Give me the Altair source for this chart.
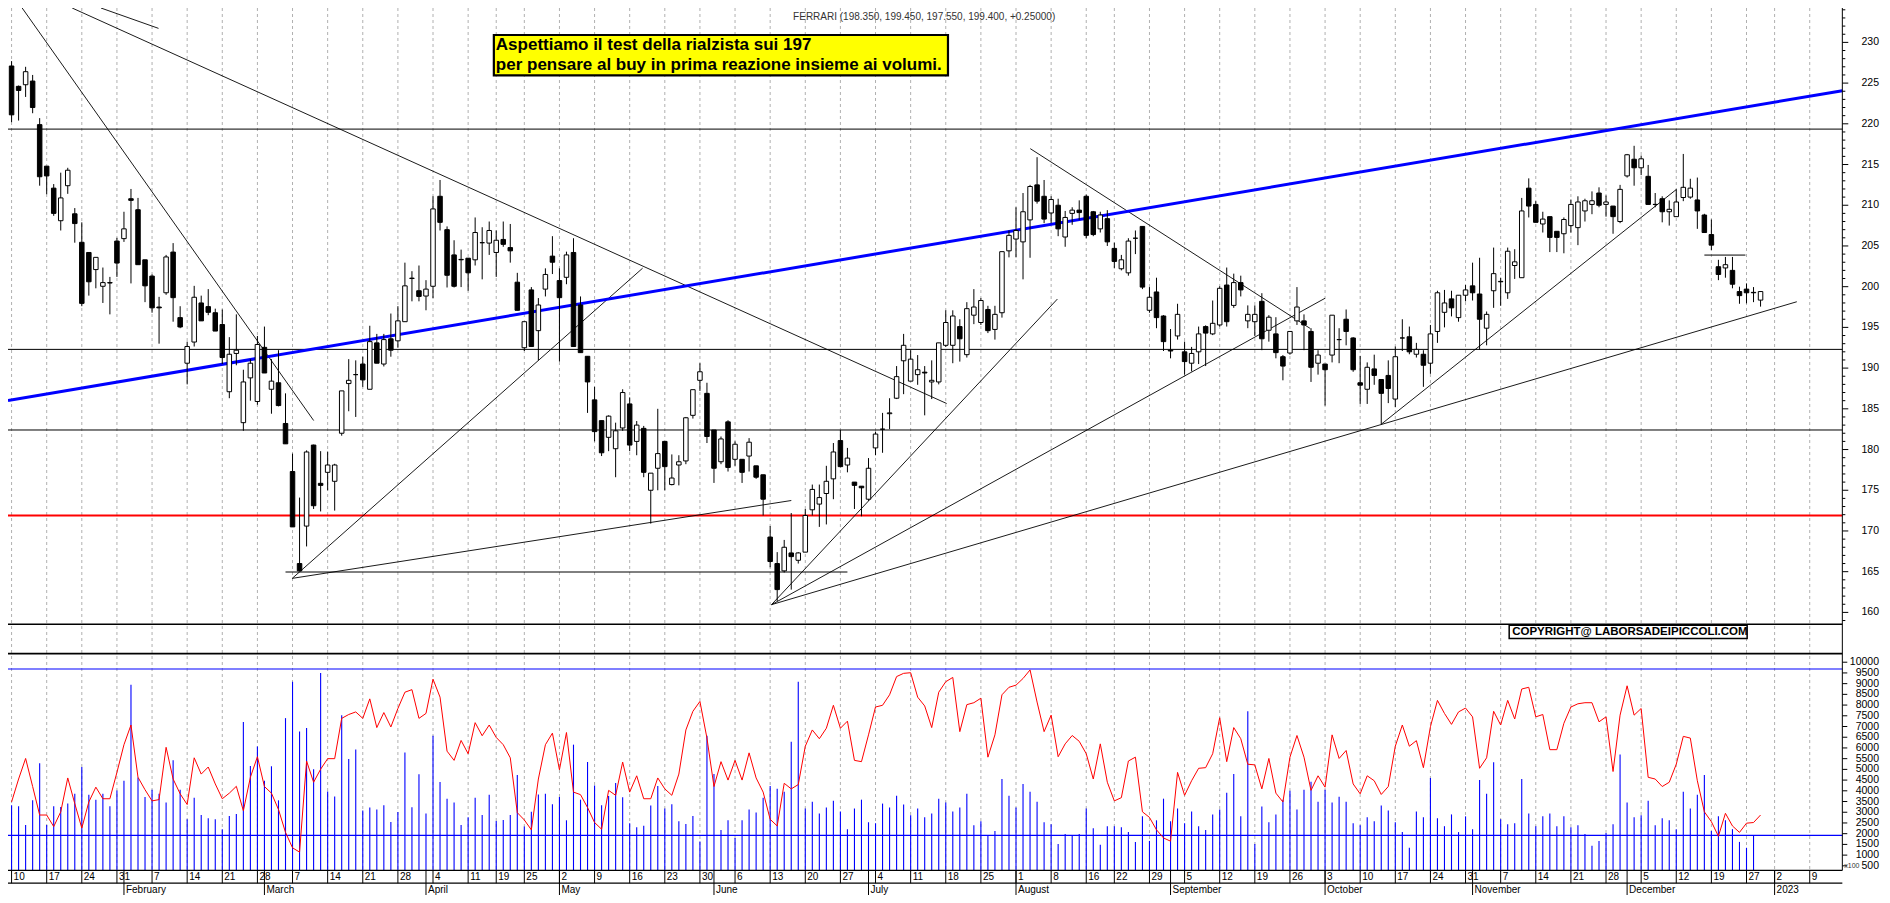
import altair as alt
import pandas as pd
import numpy as np

# ---------------------------------------------------------------- data
OPEN = [227.1, 224.6, 224.8, 225.25, 219.9, 214.8, 212.1, 208.1, 212.4, 208.95,
        205.45, 204.2, 202.1, 200.05, 200.5, 205.6, 205.9, 210.8, 209.45, 203.3,
        201.3, 197.5, 199.25, 204.25, 196.2, 190.6, 193.2, 198.0, 197.55, 196.8,
        195.35, 187.1, 191.8, 183.3, 188.8, 185.9, 192.55, 187.4, 188.2, 183.2,
        177.3, 166.0, 170.6, 180.55, 175.85, 177.2, 176.1, 182.0, 188.1, 189.2,
        190.5, 187.4, 193.1, 190.5, 193.6, 193.35, 195.7, 201.0, 199.5, 198.85,
        200.05, 211.1, 207.0, 203.9, 203.35, 203.5, 203.3, 205.4, 205.35, 204.2,
        205.8, 204.8, 200.55, 192.5, 199.6, 194.6, 199.7, 203.75, 200.75, 201.15,
        204.2, 197.75, 191.45, 186.1, 183.55, 181.5, 180.1, 182.65, 185.6, 181.0,
        182.6, 175.0, 177.7, 181.0, 175.7, 178.1, 178.6, 184.2, 188.5, 186.9,
        182.4, 178.5, 183.4, 178.8, 178.8, 179.2, 178.0, 176.9, 169.25, 166.0,
        165.1, 167.3, 166.4, 167.4, 172.6, 173.3, 174.6, 176.4, 181.1, 178.1,
        176.0, 175.5, 173.9, 180.2, 182.5, 184.4, 186.3, 190.9, 188.4, 189.2,
        189.5, 188.3, 188.3, 192.8, 192.8, 195.1, 191.65, 196.5, 195.6, 197.2,
        194.75, 196.8, 204.4, 205.85, 205.5, 208.2, 212.5, 211.1, 209.05, 210.0,
        206.1, 209.0, 209.4, 211.1, 209.2, 207.1, 208.35, 204.7, 202.2, 201.7,
        205.95, 207.4, 197.1, 199.35, 196.4, 192.2, 193.95, 192.0, 190.6, 192.0,
        195.1, 194.2, 195.3, 200.2, 197.7, 200.5, 195.8, 195.7, 198.2, 194.65,
        194.2, 191.4, 191.85, 195.8, 195.8, 194.5, 190.6, 190.5, 191.6, 193.5,
        196.0, 193.7, 188.2, 187.4, 189.9, 188.6, 189.1, 186.2, 193.7, 193.85,
        191.7, 191.7, 190.6, 194.5, 196.85, 198.5, 196.2, 198.95, 200.1, 199.1,
        194.9, 199.5, 200.6, 199.25, 202.6, 201.1, 212.1, 210.1, 207.7, 208.6,
        206.8, 206.5, 207.5, 207.25, 209.3, 210.1, 211.5, 210.1, 209.9, 208.0,
        213.6, 215.65, 214.6, 213.55, 210.1, 210.8, 209.2, 208.6, 210.95, 211.0,
        210.65, 208.8, 206.4, 202.45, 202.3, 202.0, 199.4, 199.7, 199.3, 198.35]

HIGH = [227.7, 224.7, 227.0, 226.0, 220.7, 214.8, 212.6, 214.0, 214.6, 209.65,
        207.9, 204.2, 203.6, 202.35, 201.2, 206.0, 209.2, 212.0, 210.9, 203.3,
        201.5, 198.75, 203.9, 205.35, 197.6, 193.25, 200.1, 198.9, 199.7, 197.3,
        197.2, 193.8, 196.6, 189.8, 191.1, 193.95, 195.1, 191.1, 192.2, 186.9,
        179.5, 174.1, 179.9, 180.6, 179.8, 179.75, 178.25, 187.2, 191.1, 190.95,
        191.4, 195.2, 194.2, 194.2, 196.7, 197.6, 202.95, 201.9, 202.6, 200.8,
        211.1, 213.1, 207.4, 205.7, 204.55, 203.5, 208.5, 207.3, 208.0, 206.9,
        208.0, 207.7, 201.7, 195.7, 199.95, 198.6, 202.25, 206.2, 202.25, 204.3,
        205.95, 198.8, 191.45, 187.7, 183.55, 184.2, 183.3, 187.4, 186.4, 183.5,
        182.9, 177.1, 185.0, 181.0, 179.4, 179.3, 184.0, 187.35, 190.6, 188.2,
        182.4, 181.6, 183.6, 181.0, 178.8, 181.4, 178.0, 176.9, 170.6, 167.4,
        168.9, 172.2, 167.4, 172.7, 175.7, 175.7, 178.0, 180.8, 182.4, 180.2,
        176.0, 175.5, 178.95, 182.2, 184.5, 186.3, 190.25, 194.2, 192.2, 191.6,
        190.25, 190.95, 193.1, 197.1, 197.1, 196.0, 198.1, 199.7, 198.6, 197.65,
        197.65, 204.3, 206.9, 209.75, 211.5, 212.5, 215.9, 213.1, 211.1, 210.8,
        209.3, 209.75, 210.6, 211.3, 209.3, 209.2, 209.4, 205.4, 203.9, 205.95,
        206.9, 207.4, 199.95, 201.1, 196.5, 194.8, 197.9, 193.25, 192.6, 195.1,
        195.25, 198.3, 200.05, 202.35, 201.6, 201.35, 197.7, 197.7, 199.2, 196.5,
        196.25, 191.6, 194.5, 199.95, 196.6, 194.9, 192.2, 190.5, 196.5, 194.9,
        197.2, 193.8, 191.5, 190.7, 191.65, 188.6, 190.95, 192.65, 196.0, 195.1,
        193.1, 192.2, 195.3, 199.5, 199.6, 199.5, 198.95, 200.2, 202.95, 203.55,
        196.95, 204.8, 201.1, 204.8, 204.6, 210.9, 213.3, 210.5, 209.2, 208.6,
        206.8, 208.5, 210.7, 211.1, 210.8, 211.7, 212.2, 211.2, 209.9, 212.5,
        216.3, 217.3, 216.1, 214.95, 211.5, 211.1, 210.6, 211.95, 216.3, 213.25,
        213.4, 208.95, 208.25, 203.3, 203.65, 203.65, 200.0, 200.4, 199.95, 199.45]

LOW = [220.2, 220.4, 223.3, 221.3, 212.4, 211.35, 208.7, 206.9, 211.4, 205.4,
       197.6, 198.9, 199.8, 198.0, 196.6, 201.2, 205.5, 200.4, 202.7, 198.1,
       196.8, 193.0, 199.0, 195.7, 194.9, 188.0, 192.65, 195.8, 196.5, 194.55,
       190.5, 186.3, 190.35, 182.3, 186.0, 185.5, 189.4, 184.4, 185.3, 180.7,
       170.5, 165.1, 168.1, 172.7, 172.4, 175.0, 172.5, 181.7, 184.7, 184.0,
       187.7, 187.4, 190.6, 190.2, 191.4, 192.5, 195.7, 198.2, 198.2, 197.1,
       198.6, 206.9, 199.9, 199.9, 199.95, 199.5, 202.6, 200.9, 203.9, 201.2,
       204.9, 202.95, 197.1, 192.1, 192.65, 190.95, 198.8, 201.55, 190.8, 200.3,
       192.65, 191.9, 184.5, 181.0, 179.2, 179.8, 176.6, 182.3, 179.8, 179.3,
       176.6, 170.9, 175.0, 175.0, 175.6, 175.6, 178.2, 183.8, 187.2, 180.8,
       175.9, 178.2, 177.3, 178.0, 175.9, 177.3, 176.4, 171.9, 165.55, 161.4,
       164.9, 162.8, 166.0, 167.4, 171.9, 170.5, 170.8, 173.9, 177.8, 177.2,
       172.7, 171.8, 173.7, 179.3, 179.6, 182.5, 186.2, 186.8, 188.4, 187.95,
       184.2, 186.2, 188.0, 192.6, 190.6, 190.8, 191.3, 195.4, 195.3, 194.3,
       193.5, 196.2, 203.6, 203.6, 200.9, 203.55, 210.2, 207.8, 207.8, 206.2,
       204.9, 207.6, 208.2, 205.95, 206.2, 206.65, 205.0, 202.3, 202.0, 201.35,
       204.0, 199.7, 196.8, 194.9, 192.1, 191.2, 193.5, 189.2, 189.6, 190.5,
       190.25, 194.05, 195.1, 195.1, 197.4, 198.8, 194.9, 193.95, 192.2, 193.25,
       191.2, 188.5, 191.65, 195.3, 192.2, 188.3, 189.2, 185.4, 190.7, 190.6,
       192.8, 189.55, 185.6, 185.6, 187.95, 183.1, 185.7, 185.2, 192.1, 191.7,
       191.3, 187.7, 189.3, 193.1, 195.0, 196.35, 195.7, 198.2, 198.3, 192.3,
       192.8, 197.4, 197.65, 198.5, 200.95, 201.1, 208.5, 207.9, 206.65, 204.25,
       204.25, 204.1, 206.65, 205.1, 208.0, 208.9, 209.75, 208.6, 206.5, 207.8,
       213.4, 212.4, 213.7, 210.1, 209.75, 207.9, 207.5, 208.6, 210.5, 210.8,
       207.1, 206.65, 204.5, 200.8, 201.1, 199.8, 197.9, 197.95, 198.1, 197.55]

CLOSE = [221.1, 224.1, 226.4, 222.0, 213.5, 213.6, 209.0, 210.9, 214.3, 207.75,
         197.95, 200.6, 203.6, 200.5, 200.45, 202.9, 207.1, 210.6, 202.7, 200.1,
         197.4, 197.4, 203.65, 198.65, 195.05, 192.65, 198.7, 195.8, 196.85, 194.55,
         191.3, 191.7, 192.2, 188.3, 190.6, 192.9, 189.4, 188.4, 185.4, 180.7,
         170.5, 165.1, 179.7, 173.1, 175.6, 178.1, 178.1, 187.2, 188.5, 189.2,
         188.55, 193.25, 190.6, 193.5, 192.2, 195.8, 200.1, 201.05, 198.8, 199.7,
         209.55, 207.9, 201.4, 200.05, 203.3, 201.7, 206.65, 205.4, 206.9, 205.7,
         205.2, 204.4, 197.1, 195.7, 192.65, 197.75, 201.5, 203.0, 198.65, 203.9,
         192.65, 191.9, 188.3, 182.2, 179.6, 184.1, 182.3, 187.0, 180.55, 183.0,
         177.2, 177.1, 179.5, 177.9, 176.5, 178.5, 183.9, 187.35, 189.55, 181.6,
         177.7, 181.3, 177.8, 180.65, 177.2, 180.9, 176.6, 173.9, 166.25, 162.8,
         168.0, 166.85, 167.3, 171.9, 175.1, 174.1, 176.1, 179.7, 177.9, 178.95,
         175.6, 175.3, 177.7, 181.9, 182.5, 184.5, 188.95, 192.8, 191.1, 189.8,
         189.4, 188.5, 193.1, 195.6, 196.4, 193.6, 197.3, 197.5, 198.3, 194.6,
         196.6, 204.3, 206.3, 206.9, 209.2, 212.3, 210.5, 208.3, 210.7, 207.1,
         208.5, 209.4, 209.1, 206.3, 206.4, 208.8, 205.5, 203.1, 203.3, 205.6,
         205.95, 199.95, 198.7, 196.2, 193.25, 192.1, 196.6, 190.8, 191.8, 194.2,
         194.3, 195.5, 199.8, 195.7, 200.5, 199.6, 196.6, 196.6, 193.6, 196.25,
         191.9, 190.25, 194.5, 197.5, 195.3, 190.1, 191.6, 189.8, 196.5, 193.5,
         194.5, 189.8, 187.9, 190.1, 189.1, 186.9, 187.5, 191.4, 193.7, 192.0,
         192.3, 190.35, 194.2, 199.25, 198.0, 197.4, 198.95, 199.6, 199.25, 196.0,
         196.6, 201.6, 200.65, 204.35, 203.05, 209.3, 209.9, 207.9, 208.3, 206.05,
         206.05, 208.25, 210.1, 210.4, 210.55, 210.55, 210.0, 210.4, 208.6, 211.95,
         216.2, 214.6, 215.7, 210.1, 210.1, 209.2, 209.5, 210.4, 212.2, 212.1,
         209.3, 206.65, 205.1, 201.5, 202.7, 200.3, 198.9, 199.25, 199.25, 199.4]

# volume (x100), sessions 0..248
VOLUME = [3327, 3281, 2410, 3556, 5283, 2410, 3281, 3250, 3403, 3862,
          5115, 3816, 3587, 3862, 3281, 4014, 4473, 8950, 4626, 3709,
          4045, 3862, 3449, 5420, 4045, 2670, 3678, 2868, 2716, 2670,
          2211, 2823, 2914, 7208, 5160, 6062, 4473, 5145, 3556, 7391,
          9087, 6765, 6933, 5008, 9500, 3969, 3739, 7529, 5481, 5924,
          3082, 3220, 3128, 3327, 2548, 3006, 5787, 3235, 4778, 2945,
          6566, 4412, 3632, 3449, 2410, 2761, 3678, 2868, 3816, 2593,
          2639, 2868, 4733, 2334, 3021, 3831, 3862, 3373, 3709, 2624,
          6154, 3587, 5344, 4244, 3327, 3755, 4366, 3694, 2486, 2303,
          2364, 3312, 4228, 3174, 3373, 2578, 2456, 2823, 1631, 6566,
          4779, 2166, 2624, 1799, 2624, 3128, 2991, 3679, 4229, 4091,
          3954, 6292, 9088, 3174, 3495, 2945, 3220, 3541, 3037, 2212,
          3174, 3587, 2533, 2487, 3404, 3220, 3770, 3358, 2854, 3174,
          2762, 2945, 3633, 3450, 3037, 3220, 3862, 2395, 2579, 1891,
          2120, 4550, 3770, 3220, 4320, 3954, 3495, 2533, 2441, 1524,
          1983, 1937, 1983, 3174, 2258, 1478, 2349, 2349, 2303, 2074,
          1616, 2808, 1662, 2624, 3633, 2579, 3174, 2487, 3037, 2349,
          2166, 2899, 3128, 3908, 4779, 2808, 7713, 1524, 3266, 2533,
          2899, 3587, 4000, 3128, 4045, 4427, 3495, 4045, 3450, 3725,
          3495, 2487, 2395, 2762, 2579, 3312, 3083, 2533, 2074, 1341,
          3037, 2762, 4596, 2716, 2349, 2899, 2074, 2808, 2212, 4504,
          3862, 5329, 2670, 2441, 2487, 4550, 2945, 2349, 2808, 2945,
          2349, 2808, 2303, 2395, 1983, 1432, 1662, 2028, 2441, 5696,
          3450, 2762, 2854, 3541, 2395, 2716, 2624, 2212, 3954, 3174,
          3816, 4733, 2120, 2808, 2624, 2212, 1616, 1341, 1891]

# red oscillator, read on the volume scale, sessions 0..249
OSCILLATOR = [3480, 4550, 5510, 4200, 2870, 2870, 2330, 3020, 4600, 3400,
              2260, 3480, 4170, 3630, 3630, 4860, 6150, 7070, 4630, 4050,
              3530, 3590, 6030, 4550, 3860, 3360, 5540, 4780, 5110, 4320,
              3630, 3890, 4210, 3070, 4630, 5590, 4200, 3890, 3130, 2060,
              1340, 1140, 5390, 4400, 5010, 5500, 5500, 7380, 7560, 7680,
              7380, 8290, 6950, 7650, 6980, 7840, 8600, 8720, 7380, 7610,
              9210, 8370, 5850, 5420, 6350, 5730, 7180, 6570, 7070, 6490,
              6150, 5540, 2980, 2640, 2180, 4550, 6150, 6690, 4980, 6720,
              3940, 3820, 3220, 2520, 2210, 4020, 3790, 5340, 3940, 4700,
              3630, 3630, 4600, 4090, 3790, 4780, 6840, 7710, 8170, 6460,
              4200, 5360, 4500, 5420, 4500, 5770, 4600, 3940, 2670, 2360,
              4350, 4090, 4290, 6080, 6840, 6430, 6920, 7990, 6920, 7250,
              5420, 5360, 6610, 7910, 7990, 8480, 9330, 9480, 9510, 8370,
              7960, 6950, 8600, 9090, 9290, 6760, 8020, 8110, 8320, 5570,
              6610, 8480, 8830, 8930, 9240, 9640, 8140, 6760, 7530, 5590,
              6190, 6580, 6310, 5730, 4550, 6190, 4400, 3530, 3680, 5390,
              5570, 3020, 2760, 2180, 1800, 1650, 4860, 3790, 4470, 5050,
              5080, 5730, 7410, 5360, 6950, 6430, 5240, 5210, 4090, 5510,
              3890, 3480, 5570, 6580, 5570, 4020, 4700, 4170, 6610, 5510,
              5880, 4320, 3860, 4700, 4470, 3830, 4200, 6080, 7070, 6080,
              6340, 5080, 6990, 8220, 7610, 7100, 7680, 7860, 7450, 5050,
              5540, 7710, 7070, 8220, 7350, 8750, 8830, 7450, 7560, 5920,
              5920, 7150, 7910, 8060, 8110, 8110, 7220, 7450, 4900, 7530,
              8900, 7530, 7840, 4630, 4550, 4200, 4400, 5240, 6540, 6460,
              4470, 3020, 2560, 1880, 2950, 2360, 2060, 2490, 2520, 2870]

WEEK_INDEX = [0, 5, 10, 15, 20, 25, 30, 35, 40, 45, 50, 55, 60, 65, 69, 73, 78, 83,
              88, 93, 98, 103, 108, 113, 118, 123, 128, 133, 138, 143, 148, 153, 157,
              162, 167, 172, 177, 182, 187, 192, 197, 202, 207, 212, 217, 222, 227,
              232, 237, 242, 247, 251, 256]
WEEK_LABELS = ["10", "17", "24", "31", "7", "14", "21", "28", "7", "14", "21", "28",
               "4", "11", "19", "25", "2", "9", "16", "23", "30", "6", "13", "20", "27",
               "4", "11", "18", "25", "1", "8", "16", "22", "29", "5", "12", "19", "26",
               "3", "10", "17", "24", "31", "7", "14", "21", "28", "5", "12", "19", "27",
               "2", "9"]
MONTH_INDEX = [16, 36, 59, 78, 100, 122, 143, 165, 187, 208, 230, 251]
MONTH_LABELS = ["February", "March", "April", "May", "June", "July", "August",
                "September", "October", "November", "December", "2023"]

LEVELS = [219.35, 192.3, 182.4]          # black horizontal levels
RED_LEVEL = [171.9]                      # red support
SHORT_LEVELS = [(39.0, 119.0, 164.96), (241.0, 246.85, 203.88)]  # (from, to, price)
TRENDLINES = [                           # (day1, price1, day2, price2)
    (8.63, 234.22, 133.13, 185.65),
    (12.73, 234.22, 20.92, 231.72),
    (1.51, 234.22, 43.01, 183.56),
    (39.96, 164.18, 89.84, 202.27),
    (39.96, 164.18, 111.01, 173.74),
    (108.19, 160.95, 148.89, 198.48),
    (108.19, 160.95, 187.0, 198.58),
    (108.19, 160.95, 254.16, 198.15),
    (145.03, 216.95, 184.88, 194.87),
    (195.0, 183.11, 237.03, 211.95),
]
BLUE_TREND = [(-0.51, 186.02, 260.64, 224.07)]
VOL_LEVELS = [9684, 1921]
PRICE_LABELS = list(range(160, 231, 5))
VOLUME_LABELS = list(range(500, 10001, 500))

TITLE = "FERRARI (198.350, 199.450, 197.550, 199.400, +0.25000)"
NOTE = ["Aspettiamo il test della rialzista sui 197",
        "per pensare al buy in prima reazione insieme ai volumi."]
COPY = "COPYRIGHT@ LABORSADEIPICCOLI.COM"

# ---------------------------------------------------------------- layout calibration
REF_W, REF_H = 1890, 903
W, H = REF_W - 16, REF_H - 16
SX, SY = W / REF_W, H / REF_H
DAY0_X, DAY_STEP = 3.6, 7.084
P_REF, P_Y, P_STEP = 230.0, 35.0, 8.29
V_REF, V_Y, V_STEP = 500.0, 873.3, 0.02182
AXIS_X, PANEL_BOTTOM = 1850, 878
FONT = "Liberation Sans"


def day_at(x):
    return (x - DAY0_X) / DAY_STEP


def price_at(y):
    return P_REF - (y - P_Y) / P_STEP


def vol_at(y):
    return V_REF + (V_Y - y) / V_STEP


def px(x):
    return x * SX


def py(y):
    return y * SY


XS = alt.Scale(domain=[day_at(0), day_at(REF_W)], range=[0, W], nice=False, zero=False)
PS = alt.Scale(domain=[price_at(REF_H), price_at(0)], range=[H, 0], nice=False, zero=False)
VS = alt.Scale(domain=[vol_at(REF_H), vol_at(0)], range=[H, 0], nice=False, zero=False)
RY = alt.Scale(domain=[0, REF_H], range=[0, H], nice=False, zero=False)
VOL_BASE = vol_at(PANEL_BOTTOM)


def X(f):
    return alt.X(f, type="quantitative", scale=XS, axis=None)


def YP(f):
    return alt.Y(f, type="quantitative", scale=PS, axis=None)


def YV(f):
    return alt.Y(f, type="quantitative", scale=VS, axis=None)


def YR(f):
    return alt.Y(f, type="quantitative", scale=RY, axis=None)


one = pd.DataFrame({"k": [0]})
layers = []

# weekly dashed grid
weeks = pd.DataFrame({"idx": WEEK_INDEX, "lab": WEEK_LABELS})
months = pd.DataFrame({"idx": MONTH_INDEX, "lab": MONTH_LABELS})
layers.append(alt.Chart(weeks).mark_rule(color="#b0b0b0", strokeDash=[3, 3], strokeWidth=1).encode(
    x=X("idx"), y=alt.value(0), y2=alt.value(py(PANEL_BOTTOM))))

# horizontal levels
lv = pd.DataFrame({"p": LEVELS})
layers.append(alt.Chart(lv).mark_rule(color="black", strokeWidth=1).encode(
    x=alt.value(0), x2=alt.value(px(AXIS_X)), y=YP("p")))
layers.append(alt.Chart(pd.DataFrame({"p": RED_LEVEL})).mark_rule(color="#ff0000", strokeWidth=2.2).encode(
    x=alt.value(0), x2=alt.value(px(AXIS_X)), y=YP("p")))
sl = pd.DataFrame(SHORT_LEVELS, columns=["a", "b", "p"])
layers.append(alt.Chart(sl).mark_rule(color="black", strokeWidth=1).encode(
    x=X("a"), x2=alt.X2("b"), y=YP("p")))

# trendlines
tl = pd.DataFrame(TRENDLINES, columns=["a", "pa", "b", "pb"])
layers.append(alt.Chart(tl).mark_rule(color="black", strokeWidth=0.9).encode(
    x=X("a"), x2=alt.X2("b"), y=YP("pa"), y2=alt.Y2("pb")))
bt = pd.DataFrame(BLUE_TREND, columns=["a", "pa", "b", "pb"])
layers.append(alt.Chart(bt).mark_rule(color="#0000ff", strokeWidth=3).encode(
    x=X("a"), x2=alt.X2("b"), y=YP("pa"), y2=alt.Y2("pb")))

# candles
cdf = pd.DataFrame({"i": np.arange(len(OPEN)), "o": OPEN, "h": HIGH, "l": LOW, "c": CLOSE})
cdf["dir"] = np.where(cdf["c"] >= cdf["o"], "up", "down")
cdf["x1"] = cdf["i"] - 0.32
cdf["x2"] = cdf["i"] + 0.32
layers.append(alt.Chart(cdf).mark_rule(color="black", strokeWidth=1).encode(
    x=X("i"), y=YP("l"), y2=alt.Y2("h")))
layers.append(alt.Chart(cdf).mark_rect(stroke="black", strokeWidth=1).encode(
    x=X("x1"), x2=alt.X2("x2"), y=YP("o"), y2=alt.Y2("c"),
    fill=alt.Fill("dir:N", scale=alt.Scale(domain=["up", "down"], range=["white", "black"]), legend=None)))

# volume panel
vdf = pd.DataFrame({"i": np.arange(len(VOLUME)), "v": VOLUME})
vdf["base"] = VOL_BASE
layers.append(alt.Chart(vdf).mark_rule(color="#0000ff", strokeWidth=1.1).encode(
    x=X("i"), y=YV("v"), y2=alt.Y2("base")))
layers.append(alt.Chart(pd.DataFrame({"v": VOL_LEVELS})).mark_rule(color="#0000ff", strokeWidth=1.2).encode(
    x=alt.value(0), x2=alt.value(px(AXIS_X)), y=YV("v")))
odf = pd.DataFrame({"i": np.arange(len(OSCILLATOR)), "o": OSCILLATOR})
layers.append(alt.Chart(odf).mark_line(color="#ff0000", strokeWidth=1).encode(
    x=X("i"), y=YV("o")))

# panel separators and date rows
rows = pd.DataFrame({"y": [627.3, 657.3, PANEL_BOTTOM, 891], "w": [1.6, 1.6, 1.3, 1.3]})
layers.append(alt.Chart(rows).mark_rule(color="black").encode(
    x=alt.value(0), x2=alt.value(px(AXIS_X)), y=YR("y"),
    strokeWidth=alt.StrokeWidth("w:Q", scale=None)))
layers.append(alt.Chart(weeks).mark_rule(color="black", strokeWidth=1).encode(
    x=X("idx"), y=alt.value(py(PANEL_BOTTOM)), y2=alt.value(py(891))))
layers.append(alt.Chart(months).mark_rule(color="black", strokeWidth=1).encode(
    x=X("idx"), y=alt.value(py(PANEL_BOTTOM)), y2=alt.value(py(REF_H))))
layers.append(alt.Chart(weeks).mark_text(align="left", baseline="middle", dx=2, fontSize=10,
                                         font=FONT, color="black").encode(
    x=X("idx"), y=alt.value(py(885)), text="lab:N"))
layers.append(alt.Chart(months).mark_text(align="left", baseline="middle", dx=2, fontSize=10,
                                          font=FONT, color="black").encode(
    x=X("idx"), y=alt.value(py(897.5)), text="lab:N"))

# right axis
layers.append(alt.Chart(one).mark_rule(color="black", strokeWidth=1).encode(
    x=alt.value(px(AXIS_X)), y=alt.value(0), y2=alt.value(py(PANEL_BOTTOM))))
pmin = pd.DataFrame({"p": [v for v in range(159, 235) if v % 5 != 0]})
pmaj = pd.DataFrame({"p": PRICE_LABELS, "lab": [str(v) for v in PRICE_LABELS]})
layers.append(alt.Chart(pmin).mark_rule(color="black", strokeWidth=1).encode(
    x=alt.value(px(AXIS_X)), x2=alt.value(px(AXIS_X + 3)), y=YP("p")))
layers.append(alt.Chart(pmaj).mark_rule(color="black", strokeWidth=1).encode(
    x=alt.value(px(AXIS_X)), x2=alt.value(px(AXIS_X + 6)), y=YP("p")))
layers.append(alt.Chart(pmaj).mark_text(align="right", baseline="middle", fontSize=10.5,
                                        font=FONT, color="black").encode(
    x=alt.value(px(1887)), y=YP("p"), text="lab:N"))
vmaj = pd.DataFrame({"v": VOLUME_LABELS, "lab": [str(v) for v in VOLUME_LABELS]})
layers.append(alt.Chart(vmaj).mark_rule(color="black", strokeWidth=1).encode(
    x=alt.value(px(AXIS_X)), x2=alt.value(px(AXIS_X + 5)), y=YV("v")))
layers.append(alt.Chart(vmaj).mark_text(align="right", baseline="middle", fontSize=10.5,
                                        font=FONT, color="black").encode(
    x=alt.value(px(1887)), y=YV("v"), text="lab:N"))
layers.append(alt.Chart(one).mark_text(align="left", baseline="middle", fontSize=7,
                                       font=FONT, color="#333333", text="x100").encode(
    x=alt.value(px(1852)), y=alt.value(py(873))))

# annotations
layers.append(alt.Chart(one).mark_text(align="center", baseline="middle", fontSize=10,
                                       font=FONT, color="#333333", text=TITLE).encode(
    x=alt.value(px(924)), y=alt.value(py(9))))
layers.append(alt.Chart(one).mark_rect(fill="#ffff00", stroke="black", strokeWidth=2.2).encode(
    x=alt.value(px(490)), x2=alt.value(px(948)), y=alt.value(py(27.5)), y2=alt.value(py(68.5))))
note = pd.DataFrame({"t": NOTE, "y": [37.8, 58.0]})
layers.append(alt.Chart(note).mark_text(align="left", baseline="middle", fontSize=17,
                                        fontWeight="bold", font=FONT, color="black").encode(
    x=alt.value(px(492)), y=YR("y"), text="t:N"))
layers.append(alt.Chart(one).mark_rect(fill="white", stroke="black", strokeWidth=1.5).encode(
    x=alt.value(px(1514)), x2=alt.value(px(1754)), y=alt.value(py(628.5)), y2=alt.value(py(641.8))))
layers.append(alt.Chart(one).mark_text(align="left", baseline="middle", fontSize=11.5,
                                       fontWeight="bold", font=FONT, color="black", text=COPY).encode(
    x=alt.value(px(1517)), y=alt.value(py(635.3))))

chart = alt.layer(*layers).resolve_scale(
    x="independent", y="independent"
).properties(
    width=W, height=H, padding=0, autosize=alt.AutoSizeParams(type="none")
).configure_view(strokeWidth=0)

chart.save("out.html", embed_options={"renderer": "svg", "actions": False})
